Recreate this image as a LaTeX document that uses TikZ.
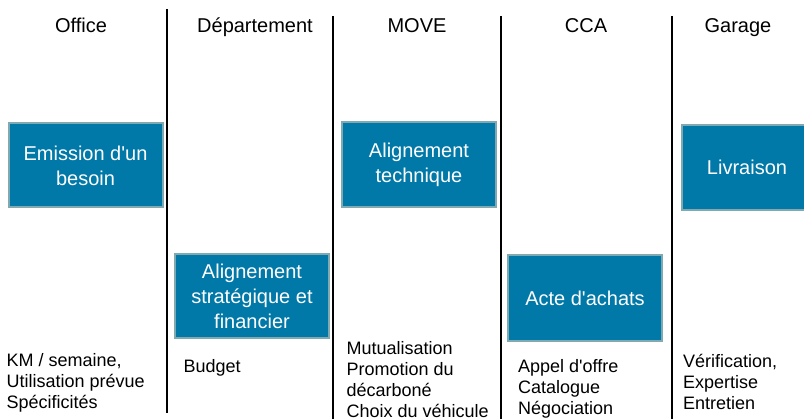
\documentclass[tikz,border=0pt]{standalone}
\usepackage{fontspec}
\setmainfont{Liberation Sans}
\usepackage{tikz}
\usetikzlibrary{positioning}
\definecolor{bleuprocess}{HTML}{0078A8}
\definecolor{bordprocess}{HTML}{80A9B2}
\newcommand{\apos}{\textquotesingle}

\begin{document}
\begin{tikzpicture}[
  x=1pt, y=-1pt,
  box/.style={draw=bordprocess, line width=2pt, fill=bleuprocess, text=white, align=center, minimum width=154pt, minimum height=84pt, inner sep=2pt, font=\fontsize{20}{25}\selectfont},
  header/.style={anchor=base, font=\fontsize{20}{24}\selectfont},
  % ancre sur la ligne de base de la dernière ligne
  tasks/.style={anchor=base west, align=left, inner sep=0pt, font=\fontsize{18}{20.8}\selectfont},
  sep/.style={line width=1.5pt}
]
  \useasboundingbox (0,0) rectangle (804,419);

  % Acteurs ================================
  \node[header] (office) at (81,33) {Office};
  \node[header] (dept) at (255,33) {Département};
  \node[header] (move) at (417,33) {MOVE};
  \node[header] (cca) at (586,33) {CCA};
  \node[header] (garage) at (738,33) {Garage};

  % Séparateurs entre colonnes
  \draw[sep] (167,9) -- (167,413);
  \draw[sep] (333,16) -- (333,419);
  \draw[sep] (501,16) -- (501,419);
  \draw[sep] (672,16) -- (672,419);

  % Étapes du processus
  \node[box] (besoin) at (85.5,165.5) {Emission d\apos un\\besoin};
  \node[box] (strat) at (252,296) {Alignement\\stratégique et\\financier};
  \node[box, minimum height=85pt] (tech) at (419,165) {Alignement\\technique};
  \node[box, minimum height=86pt] (achats) at (585,298) {Acte d\apos achats};
  \node[box, minimum width=130pt, minimum height=85pt] (livraison) at (747,167.5) {Livraison};

  % Détails par acteur
  \node[tasks] (besoinliste) at (6.5,408.6) {KM / semaine,\\Utilisation prévue\\Spécificités};
  \node[tasks] (budget) at (183.5,372.5) {Budget};
  \node[tasks] (moveliste) at (346.5,417.4) {Mutualisation\\Promotion du\\décarboné\\Choix du véhicule};
  \node[tasks] (ccaliste) at (518,414.3) {Appel d\apos offre\\Catalogue\\Négociation};
  \node[tasks] (garageliste) at (683,409.3) {Vérification,\\Expertise\\Entretien};

\end{tikzpicture}
\end{document}
